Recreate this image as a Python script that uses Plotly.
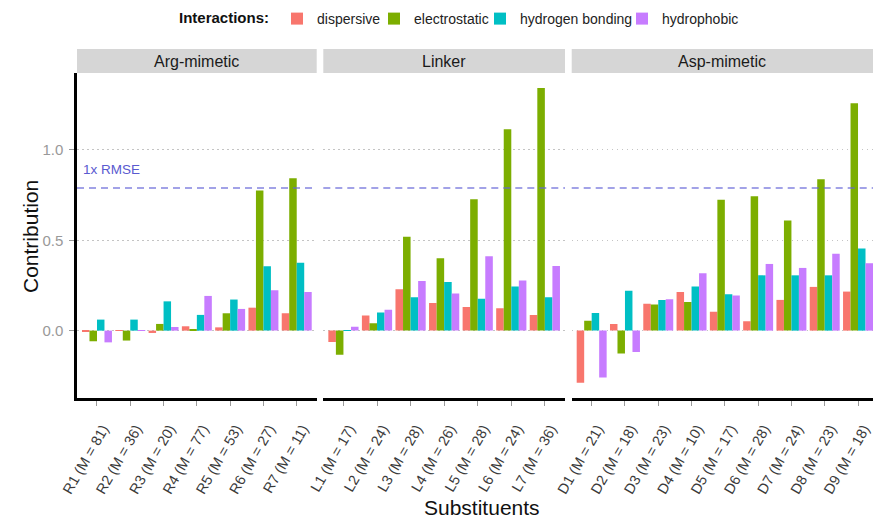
import plotly.graph_objects as go

# ---------------- data ----------------
interactions = ["dispersive", "electrostatic", "hydrogen bonding", "hydrophobic"]
panel_names = ["Arg-mimetic", "Linker", "Asp-mimetic"]

arg_labels = ["R1 (M = 81)", "R2 (M = 36)", "R3 (M = 20)", "R4 (M = 77)",
              "R5 (M = 53)", "R6 (M = 27)", "R7 (M = 11)"]
arg_dispersive = [-0.005, 0.002, -0.013, 0.024, 0.018, 0.127, 0.096]
arg_electrostatic = [-0.059, -0.055, 0.037, 0.009, 0.096, 0.775, 0.843]
arg_hbond = [0.061, 0.061, 0.162, 0.087, 0.172, 0.356, 0.375]
arg_hydrophobic = [-0.065, 0.003, 0.020, 0.192, 0.120, 0.223, 0.214]

linker_labels = ["L1 (M = 17)", "L2 (M = 24)", "L3 (M = 28)", "L4 (M = 26)",
                 "L5 (M = 28)", "L6 (M = 24)", "L7 (M = 36)"]
linker_dispersive = [-0.063, 0.083, 0.229, 0.153, 0.131, 0.124, 0.087]
linker_electrostatic = [-0.133, 0.041, 0.520, 0.400, 0.727, 1.114, 1.343]
linker_hbond = [0.003, 0.100, 0.185, 0.269, 0.177, 0.244, 0.185]
linker_hydrophobic = [0.022, 0.116, 0.275, 0.205, 0.411, 0.277, 0.358]

asp_labels = ["D1 (M = 21)", "D2 (M = 18)", "D3 (M = 23)", "D4 (M = 10)",
              "D5 (M = 17)", "D6 (M = 28)", "D7 (M = 24)", "D8 (M = 23)",
              "D9 (M = 18)"]
asp_dispersive = [-0.288, 0.037, 0.149, 0.214, 0.105, 0.052, 0.170, 0.242, 0.216]
asp_electrostatic = [0.055, -0.127, 0.144, 0.159, 0.725, 0.744, 0.609, 0.838, 1.258]
asp_hbond = [0.098, 0.221, 0.170, 0.244, 0.201, 0.306, 0.306, 0.306, 0.454]
asp_hydrophobic = [-0.260, -0.118, 0.173, 0.317, 0.194, 0.369, 0.347, 0.426, 0.373]

rmse = 0.79
rmse_label = "1x RMSE"
y_ticks = [0.0, 0.5, 1.0]

# ---------------- styling ----------------
colors = ["#F8766D", "#7CAE00", "#00BFC4", "#C77CFF"]
FONT = "Liberation Sans, Arial, Helvetica, sans-serif"
W, H = 873, 518
ML, MR, MT, MB = 77, 0, 73, 120
PW = W - ML - MR
PH = H - MT - MB

# panel pixel extents (left, right) in figure pixels
panel_px = [(77, 316.7), (323.3, 565), (571.7, 873)]
panel_ranges = [[-0.6, 6.6], [-0.6, 6.6], [-0.6, 8.45]]
domains = [[(a - ML) / PW, (b - ML) / PW] for a, b in panel_px]

# legend entry left edges (pixels); first one carries the title
legend_left_px = [177, 374, 480, 622]
legend_ids = ["legend", "legend2", "legend3", "legend4"]

panels = [
    (arg_labels, [arg_dispersive, arg_electrostatic, arg_hbond, arg_hydrophobic]),
    (linker_labels, [linker_dispersive, linker_electrostatic, linker_hbond, linker_hydrophobic]),
    (asp_labels, [asp_dispersive, asp_electrostatic, asp_hbond, asp_hydrophobic]),
]

fig = go.Figure()
for p, (labels, series) in enumerate(panels):
    xa = "x" if p == 0 else f"x{p + 1}"
    for k, (name, vals) in enumerate(zip(interactions, series)):
        fig.add_trace(go.Bar(
            x=labels, y=vals, name=name, xaxis=xa, yaxis="y",
            marker=dict(color=colors[k], line=dict(width=0)),
            legendgroup=name, showlegend=(p == 0), legend=legend_ids[k],
        ))

axis_common = dict(
    type="category", showgrid=False, zeroline=False,
    showline=True, linecolor="black", linewidth=2.5,
    ticks="outside", ticklen=5, tickcolor="#999999", tickwidth=1,
    tickangle=-60, tickfont=dict(family=FONT, size=14.5, color="#3a3a3a"),
    ticklabelshift=6, ticklabelstandoff=9,
    anchor="y", fixedrange=True,
)
legend_common = dict(
    orientation="h", xanchor="left", y=1 + (MT - 19) / PH, yanchor="middle",
    font=dict(family=FONT, size=14, color="#222222"),
    itemwidth=30, tracegroupgap=0, bgcolor="rgba(0,0,0,0)", borderwidth=0,
)
layout = dict(
    width=W, height=H,
    margin=dict(l=ML, r=MR, t=MT, b=MB),
    plot_bgcolor="white", paper_bgcolor="white",
    barmode="group", bargap=0.1, bargroupgap=0,
    font=dict(family=FONT),
    yaxis=dict(
        range=[-0.373, 1.426], tickvals=y_ticks, tickformat=".1f",
        showgrid=True, gridcolor="#c4c4c4", griddash="1.5px,3.5px", gridwidth=1,
        zeroline=False, showline=True, linecolor="black", linewidth=2.5,
        ticks="outside", ticklen=5, tickcolor="#999999",
        tickfont=dict(family=FONT, size=15, color="#999999"),
        ticklabelstandoff=3, anchor="x", fixedrange=True,
    ),
)
for k, lid in enumerate(legend_ids):
    lg = dict(legend_common, x=(legend_left_px[k] - ML) / PW)
    if k == 0:
        lg["title"] = dict(text="<b>Interactions:</b>", side="left",
                           font=dict(family=FONT, size=15, color="#111111"))
    layout[lid] = lg
for p in range(3):
    key = "xaxis" if p == 0 else f"xaxis{p + 1}"
    layout[key] = dict(axis_common, domain=domains[p], range=panel_ranges[p])
fig.update_layout(**layout)

# strips, RMSE lines
strip_h = 24 / PH
for p in range(3):
    xr = "x" if p == 0 else f"x{p + 1}"
    fig.add_shape(type="rect", xref=f"{xr} domain", yref="paper",
                  x0=0, x1=1, y0=1, y1=1 + strip_h,
                  fillcolor="#d6d6d6", line=dict(width=0), layer="below")
    fig.add_annotation(xref=f"{xr} domain", yref="paper", x=0.5,
                       y=1 + strip_h / 2, text=panel_names[p], showarrow=False,
                       font=dict(family=FONT, size=16, color="#1a1a1a"),
                       xanchor="center", yanchor="middle")
    fig.add_shape(type="line", xref=f"{xr} domain", yref="y",
                  x0=0, x1=1, y0=rmse, y1=rmse,
                  line=dict(color="rgba(100,100,215,0.8)", width=1.5, dash="7px,5px"))

fig.add_annotation(xref="x domain", yref="y", x=0.015, y=rmse, yshift=9,
                   text=rmse_label, showarrow=False, xanchor="left",
                   yanchor="bottom",
                   font=dict(family=FONT, size=13.5, color="#5a5ad0"))

# axis titles
fig.add_annotation(xref="paper", yref="paper", x=(482 - ML) / PW,
                   y=-(507 - (MT + PH)) / PH, text="Substituents",
                   showarrow=False, xanchor="center", yanchor="middle",
                   font=dict(family=FONT, size=21, color="#111111"))
fig.add_annotation(xref="paper", yref="paper", x=-(ML - 30) / PW,
                   y=(MT + PH - 237) / PH, text="Contribution",
                   showarrow=False, textangle=-90, xanchor="center",
                   yanchor="middle",
                   font=dict(family=FONT, size=21, color="#111111"))

fig.write_html("out.html")
